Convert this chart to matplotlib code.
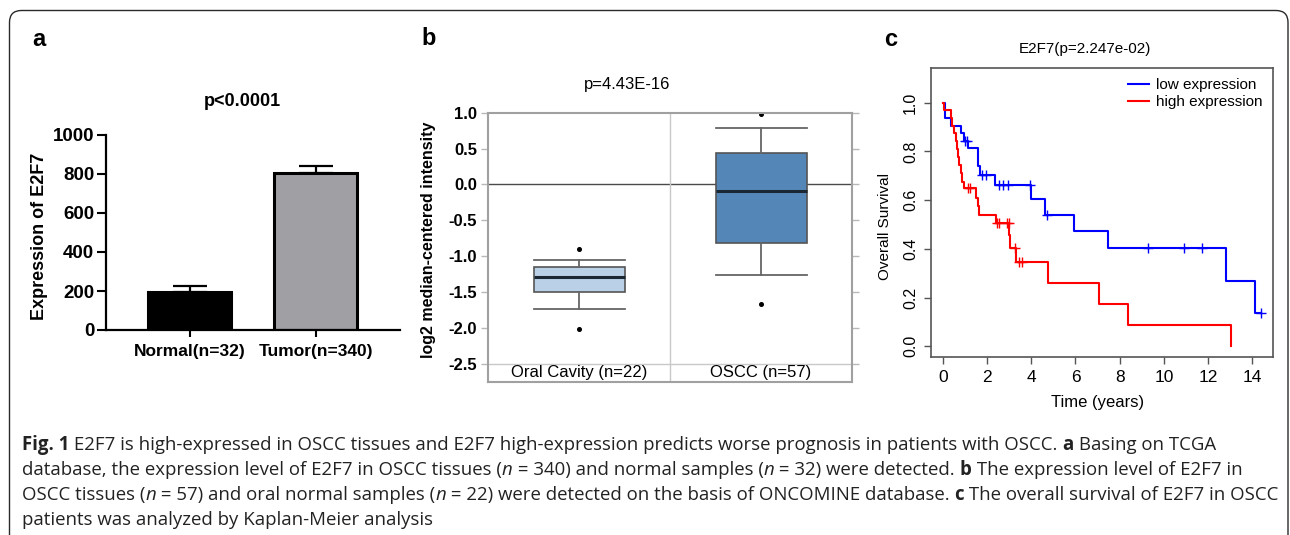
import matplotlib
matplotlib.use('Agg')
import matplotlib.pyplot as plt
from matplotlib.patches import FancyBboxPatch
from matplotlib.lines import Line2D

plt.rcParams['font.family'] = ['Liberation Sans', 'DejaVu Sans']

W, H = 1290, 535

# ---------------- data ----------------
# panel a (TCGA)
a_groups = ['Normal(n=32)', 'Tumor(n=340)']
a_means = [196, 803]
a_err = [30, 37]
a_colors = ['#000000', '#a09fa4']
a_yticks = [0, 200, 400, 600, 800, 1000]

# panel b (ONCOMINE box plot)
b_groups = ['Oral Cavity (n=22)', 'OSCC (n=57)']
b_q1 = [-1.50, -0.81]
b_med = [-1.29, -0.09]
b_q3 = [-1.15, 0.44]
b_whislo = [-1.73, -1.26]
b_whishi = [-1.05, 0.79]
b_fliers = [[-0.90, -2.01], [0.98, -1.67]]
b_colors = ['#b9d0e6', '#5487b8']
b_yticks = [1.0, 0.5, 0.0, -0.5, -1.0, -1.5, -2.0, -2.5]

# panel c (Kaplan-Meier)
low_t = [0, 0.09, 0.39, 0.84, 0.95, 1.15, 1.60, 1.70, 2.35, 4.00, 4.60, 5.94,
         7.45, 12.80, 14.10, 14.38]
low_s = [1.0, 0.938, 0.906, 0.875, 0.845, 0.813, 0.740, 0.702, 0.661, 0.603,
         0.541, 0.473, 0.405, 0.270, 0.135, 0.135]
low_cens_t = [1.0, 1.1, 1.78, 1.96, 2.53, 2.71, 2.95, 3.96, 4.71, 9.29, 10.92,
              11.73, 14.38]
low_cens_s = [0.845, 0.845, 0.702, 0.702, 0.661, 0.661, 0.661, 0.661, 0.541,
              0.405, 0.405, 0.405, 0.135]
high_t = [0, 0.05, 0.35, 0.42, 0.50, 0.60, 0.65, 0.69, 0.75, 0.80, 0.87, 0.95,
          1.52, 1.58, 1.65, 2.40, 2.98, 3.02, 3.32, 4.74, 7.06, 8.38, 13.05]
high_s = [1.0, 0.970, 0.938, 0.906, 0.875, 0.843, 0.810, 0.776, 0.743, 0.710,
          0.676, 0.648, 0.610, 0.575, 0.540, 0.505, 0.455, 0.402, 0.345, 0.258,
          0.172, 0.086, 0.0]
high_cens_t = [1.13, 1.25, 2.45, 2.56, 2.90, 2.98, 3.28, 3.43, 3.58]
high_cens_s = [0.648, 0.648, 0.505, 0.505, 0.505, 0.505, 0.402, 0.345, 0.345]
c_xticks = [0, 2, 4, 6, 8, 10, 12, 14]
c_yticks = [0.0, 0.2, 0.4, 0.6, 0.8, 1.0]

# caption (segments: text, style)
caption_lines = [
    [('Fig. 1', 'b'), (' E2F7 is high-expressed in OSCC tissues and E2F7 high-expression predicts worse prognosis in patients with OSCC. ', 'r'),
     ('a', 'b'), (' Basing on TCGA', 'r')],
    [('database, the expression level of E2F7 in OSCC tissues (', 'r'), ('n', 'i'), (' = 340) and normal samples (', 'r'),
     ('n', 'i'), (' = 32) were detected. ', 'r'), ('b', 'b'), (' The expression level of E2F7 in', 'r')],
    [('OSCC tissues (', 'r'), ('n', 'i'), (' = 57) and oral normal samples (', 'r'), ('n', 'i'),
     (' = 22) were detected on the basis of ONCOMINE database. ', 'r'), ('c', 'b'),
     (' The overall survival of E2F7 in OSCC', 'r')],
    [('patients was analyzed by Kaplan-Meier analysis', 'r')],
]


def rect(l, t, r, b):
    return [l / W, 1 - b / H, (r - l) / W, (b - t) / H]


fig = plt.figure(figsize=(W / 100, H / 100), dpi=100)

# background axes in pixel coordinates
bg = fig.add_axes([0, 0, 1, 1], zorder=-1)
bg.set_xlim(0, W)
bg.set_ylim(H, 0)
bg.axis('off')
bg.add_patch(FancyBboxPatch((9.5, 10.5), 1278.5, 540, boxstyle='round,pad=0,rounding_size=12',
                            facecolor='white', edgecolor='#2a2a2a', linewidth=1.0))

# ---------------- panel a ----------------
axa = fig.add_axes(rect(106, 135, 400, 330))
xa = list(range(len(a_groups)))
axa.bar(xa, a_means, width=0.66, color=a_colors, edgecolor='black', linewidth=2.2, zorder=2)
axa.errorbar(xa, a_means, yerr=[[0] * len(a_err), a_err], fmt='none', ecolor='black',
             elinewidth=1.6, capsize=12, capthick=1.6, zorder=1)
axa.set_xlim(-0.663, 1.67)
axa.set_ylim(0, 1000)
axa.set_yticks(a_yticks)
axa.set_yticklabels([str(v) for v in a_yticks], fontsize=13.5, fontweight='bold')
axa.set_xticks(xa)
axa.set_xticklabels(a_groups, fontsize=12.5, fontweight='bold')
for s in ['top', 'right']:
    axa.spines[s].set_visible(False)
for s in ['left', 'bottom']:
    axa.spines[s].set_linewidth(1.6)
axa.tick_params(axis='y', length=6.5, width=1.5, pad=2)
axa.tick_params(axis='x', length=5, width=1.5, pad=5)

bg.text(39, 40, 'a', fontsize=17, fontweight='bold', ha='center', va='center')
bg.text(242, 101, 'p<0.0001', fontsize=13, fontweight='bold', ha='center', va='center')
bg.text(40, 236, 'Expression of E2F7', fontsize=13, fontweight='bold', rotation=90,
        ha='center', va='center')

# ---------------- panel b ----------------
axb = fig.add_axes(rect(488, 112.7, 852, 381.7))
stats = []
for i in range(len(b_groups)):
    stats.append(dict(med=b_med[i], q1=b_q1[i], q3=b_q3[i], whislo=b_whislo[i],
                      whishi=b_whishi[i], fliers=b_fliers[i]))
bp = axb.bxp(stats, positions=[0, 1], widths=0.5, capwidths=0.5, patch_artist=True,
             boxprops=dict(edgecolor='#555555', linewidth=1.2),
             medianprops=dict(color='#1b2733', linewidth=2.2),
             whiskerprops=dict(color='#666666', linewidth=1.3),
             capprops=dict(color='#666666', linewidth=1.3),
             flierprops=dict(marker='o', markersize=2.6, markerfacecolor='black',
                             markeredgecolor='black'))
for patch, col in zip(bp['boxes'], b_colors):
    patch.set_facecolor(col)
axb.axhline(0, color='#4a4a4a', linewidth=1.0, zorder=0)
axb.axhline(-2.5, color='#c8c8c8', linewidth=1.0, zorder=0)
axb.axvline(0.5, color='#c8c8c8', linewidth=1.0, zorder=0)
axb.set_xlim(-0.5, 1.5)
axb.set_ylim(-2.75, 1.0)
axb.set_yticks(b_yticks)
axb.set_yticklabels(['%.1f' % v for v in b_yticks], fontsize=12, fontweight='bold')
axb.set_xticks([])
for i, g in enumerate(b_groups):
    axb.text(i, -2.615, g, fontsize=12, ha='center', va='center')
for s in axb.spines.values():
    s.set_color('#a0a0a0')
    s.set_linewidth(1.5)
axb.tick_params(axis='y', left=True, right=True, direction='out', length=5, width=1,
                color='#b8b8b8', pad=3)

bg.text(429, 38.5, 'b', fontsize=17, fontweight='bold', ha='center', va='center')
bg.text(627, 84, 'p=4.43E-16', fontsize=12, ha='center', va='center')
bg.text(428, 240, 'log2 median-centered intensity', fontsize=11.5, fontweight='bold',
        rotation=90, ha='center', va='center')

# ---------------- panel c ----------------
axc = fig.add_axes(rect(930.7, 67.7, 1273.3, 357))
axc.step(low_t, low_s, where='post', color='#0000ff', linewidth=1.5)
axc.step(high_t, high_s, where='post', color='#ff0000', linewidth=1.5)
axc.plot(low_cens_t, low_cens_s, '+', color='#0000ff', markersize=7, markeredgewidth=1.0)
axc.plot(high_cens_t, high_cens_s, '+', color='#ff0000', markersize=7, markeredgewidth=1.0)
axc.set_xlim(-0.55, 14.95)
axc.set_ylim(-0.044, 1.144)
axc.set_xticks(c_xticks)
axc.set_xticklabels([str(v) for v in c_xticks], fontsize=12.5)
axc.set_yticks(c_yticks)
axc.set_yticklabels(['%.1f' % v for v in c_yticks], fontsize=11.5, rotation=90, va='center')
for s in axc.spines.values():
    s.set_color('#555555')
    s.set_linewidth(1.2)
axc.tick_params(length=5, width=1.0, color='#555555', pad=4)
handles = [Line2D([], [], color='#0000ff', linewidth=1.5),
           Line2D([], [], color='#ff0000', linewidth=1.5)]
axc.legend(handles, ['low expression', 'high expression'], loc='upper right',
           bbox_to_anchor=(0.985, 0.985), frameon=False, fontsize=11, handlelength=1.4,
           handletextpad=0.4, labelspacing=0.2, borderaxespad=0)

bg.text(891, 39, 'c', fontsize=17, fontweight='bold', ha='center', va='center')
bg.text(1085, 49, 'E2F7(p=2.247e-02)', fontsize=11, ha='center', va='center')
bg.text(885, 227, 'Overall Survival', fontsize=11, rotation=90, ha='center', va='center')
bg.text(1098, 403, 'Time (years)', fontsize=12, ha='center', va='center')

# ---------------- caption ----------------
cap_family = ['Open Sans', 'DejaVu Sans']
renderer = fig.canvas.get_renderer()


def seg_width(txt, style, size):
    kw = dict(fontsize=size, family=cap_family)
    if style == 'b':
        kw['fontweight'] = 'bold'
    if style == 'i':
        kw['fontstyle'] = 'italic'
    t1 = bg.text(0, 0, txt + '|', **kw)
    t2 = bg.text(0, 0, '|', **kw)
    w = t1.get_window_extent(renderer).width - t2.get_window_extent(renderer).width
    t1.remove()
    t2.remove()
    return w, kw


def line_width(segs, size):
    return sum(seg_width(t, s, size)[0] for t, s in segs)


base = 12.0
target = 1273 - 22
cap_size = base * target / line_width(caption_lines[2], base)

baselines = [450, 475, 500, 525]
for segs, yb in zip(caption_lines, baselines):
    x = 22
    for txt, style in segs:
        w, kw = seg_width(txt, style, cap_size)
        bg.text(x, yb, txt, va='baseline', ha='left', color='#222222', **kw)
        x += w

fig.savefig('out.png', dpi=100)
